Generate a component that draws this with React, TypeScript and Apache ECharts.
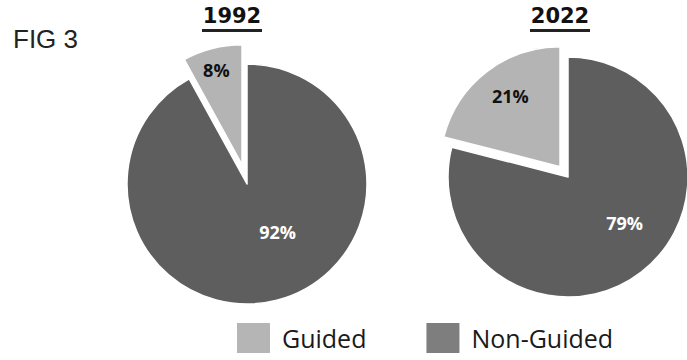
import React, { useEffect, useRef } from "react";
import * as echarts from "echarts";

const categories = ["Guided", "Non-Guided"];
const years = ["1992", "2022"];
const values1992 = [8, 92];
const values2022 = [21, 79];
const figLabel = "FIG 3";

const COLORS: Record<string, string> = { Guided: "#b4b4b4", "Non-Guided": "#5e5e5e" };
const LEGEND_COLORS: Record<string, string> = { Guided: "#b5b5b5", "Non-Guided": "#7e7e7e" };
const LABEL_COLORS: Record<string, string> = { Guided: "#111111", "Non-Guided": "#ffffff" };

// label nudges (per series, per data index in pie order: Non-Guided, Guided)
const LABEL_NUDGE = [
  [[15, -13], [-10, -34]],
  [[18, -4], [-11, -21]],
];

export default function App() {
  const ref = useRef<HTMLDivElement>(null);
  useEffect(() => {
    if (!ref.current) return;
    const chart = echarts.init(ref.current, null, { renderer: "svg" });
    const allValues = [values1992, values2022];
    const centers = [[247, 184], [568, 177]];
    const offsets = [20, 13];
    const order = [1, 0]; // Non-Guided first (clockwise from 12 o'clock), then Guided

    const series = years.map((yr, si) => ({
      type: "pie",
      name: yr,
      center: centers[si],
      radius: 120,
      startAngle: 90,
      clockwise: true,
      selectedMode: "single",
      selectedOffset: offsets[si],
      avoidLabelOverlap: false,
      emphasis: { disabled: true },
      itemStyle: { borderColor: "#ffffff", borderWidth: 1.5 },
      select: { itemStyle: { borderColor: "#ffffff", borderWidth: 1.5 } },
      label: {
        show: true,
        position: "inside",
        formatter: "{c}%",
        fontFamily: "Open Sans",
        fontWeight: "bold",
        fontSize: 18,
      },
      labelLine: { show: false },
      labelLayout: (p: any) => {
        const n = LABEL_NUDGE[p.seriesIndex][p.dataIndex];
        return { dx: n[0], dy: n[1] };
      },
      data: order.map((ci) => ({
        name: categories[ci],
        value: allValues[si][ci],
        selected: categories[ci] === "Guided",
        itemStyle: { color: COLORS[categories[ci]] },
        label: { color: LABEL_COLORS[categories[ci]] },
      })),
    }));

    const titleX = [232, 560];
    const graphic: any[] = [
      {
        type: "text",
        left: 13,
        top: 26,
        style: {
          text: figLabel,
          fontFamily: "'Liberation Sans Narrow', 'Liberation Sans', sans-serif",
          fontSize: 26,
          fill: "#222222",
        },
      },
    ];
    years.forEach((yr, i) => {
      graphic.push({
        type: "text",
        x: titleX[i],
        y: 16,
        style: {
          text: yr,
          fontFamily: "'DejaVu Sans', sans-serif",
          fontWeight: "bold",
          fontSize: 21,
          fill: "#111111",
          align: "center",
          verticalAlign: "middle",
        },
      });
      graphic.push({
        type: "rect",
        shape: { x: titleX[i] - 30, y: 29, width: 60, height: 3 },
        style: { fill: "#222222" },
      });
    });

    chart.setOption({
      animation: false,
      backgroundColor: "#ffffff",
      legend: {
        left: 235,
        top: 321,
        padding: 0,
        orient: "horizontal",
        itemWidth: 35,
        itemHeight: 32,
        itemGap: 58,
        icon: "rect",
        selectedMode: false,
        textStyle: {
          fontFamily: "Open Sans",
          fontSize: 25,
          color: "#1a1a1a",
          padding: [0, 0, 0, 6],
        },
        data: categories.map((c) => ({
          name: c,
          itemStyle: { color: LEGEND_COLORS[c] },
        })),
      },
      graphic,
      series,
    });
    return () => chart.dispose();
  }, []);
  return (
    <div
      ref={ref}
      style={{ position: "fixed", left: 0, top: 0, width: 687, height: 360 }}
    />
  );
}
